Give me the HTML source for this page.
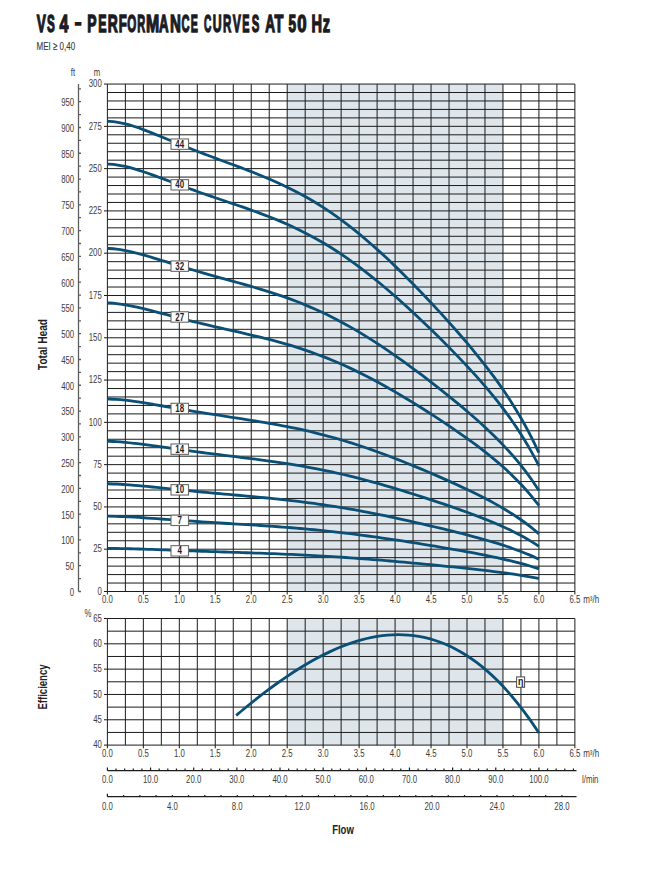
<!DOCTYPE html>
<html><head><meta charset="utf-8"><style>
html,body{margin:0;padding:0;background:#fff;width:663px;height:878px;overflow:hidden}
svg{display:block;font-family:"Liberation Sans", sans-serif}
</style></head><body>
<svg width="663" height="878" viewBox="0 0 663 878">
<g font-size="24.3" font-weight="bold" fill="#1b1b24" stroke="#1b1b24" stroke-width="1.4"><text transform="translate(36.86,31.90) scale(0.560,1)">V</text><text transform="translate(46.92,31.90) scale(0.480,1)">S</text><text transform="translate(59.62,31.90) scale(0.659,1)">4</text><text transform="translate(74.80,29.90) scale(0.489,1)">&#8211;</text><text transform="translate(87.13,31.90) scale(0.573,1)">P</text><text transform="translate(98.33,31.90) scale(0.512,1)">E</text><text transform="translate(107.73,31.90) scale(0.570,1)">R</text><text transform="translate(118.68,31.90) scale(0.542,1)">F</text><text transform="translate(127.18,31.90) scale(0.478,1)">O</text><text transform="translate(137.32,31.90) scale(0.453,1)">R</text><text transform="translate(146.10,31.90) scale(0.652,1)">M</text><text transform="translate(159.03,31.90) scale(0.545,1)">A</text><text transform="translate(169.95,31.90) scale(0.621,1)">N</text><text transform="translate(181.60,31.90) scale(0.458,1)">C</text><text transform="translate(190.85,31.90) scale(0.439,1)">E</text><text transform="translate(204.04,31.90) scale(0.420,1)">C</text><text transform="translate(212.72,31.90) scale(0.505,1)">U</text><text transform="translate(222.99,31.90) scale(0.473,1)">R</text><text transform="translate(232.67,31.90) scale(0.503,1)">V</text><text transform="translate(242.33,31.90) scale(0.446,1)">E</text><text transform="translate(251.73,31.90) scale(0.466,1)">S</text><text transform="translate(265.32,31.90) scale(0.557,1)">A</text><text transform="translate(274.50,31.90) scale(0.599,1)">T</text><text transform="translate(288.44,31.90) scale(0.561,1)">5</text><text transform="translate(297.19,31.90) scale(0.691,1)">0</text><text transform="translate(311.58,31.90) scale(0.600,1)">H</text><text transform="translate(322.78,31.90) scale(0.600,1)">z</text></g>
<text x="36.6" y="49.7" font-size="11.5" fill="#3a3a3a" stroke="#3a3a3a" stroke-width="0.15" textLength="38.5" lengthAdjust="spacingAndGlyphs">MEI &#8805; 0,40</text>
<rect x="287.20" y="84.05" width="215.76" height="507.45" fill="#dfe6eb"/>
<rect x="287.20" y="618.50" width="215.76" height="126.60" fill="#dfe6eb"/>
<path d="M107.40 84.05V591.50 M125.38 84.05V591.50 M143.36 84.05V591.50 M161.34 84.05V591.50 M179.32 84.05V591.50 M197.30 84.05V591.50 M215.28 84.05V591.50 M233.26 84.05V591.50 M251.24 84.05V591.50 M269.22 84.05V591.50 M287.20 84.05V591.50 M305.18 84.05V591.50 M323.16 84.05V591.50 M341.14 84.05V591.50 M359.12 84.05V591.50 M377.10 84.05V591.50 M395.08 84.05V591.50 M413.06 84.05V591.50 M431.04 84.05V591.50 M449.02 84.05V591.50 M467.00 84.05V591.50 M484.98 84.05V591.50 M502.96 84.05V591.50 M520.94 84.05V591.50 M538.92 84.05V591.50 M556.90 84.05V591.50 M574.88 84.05V591.50 M107.40 591.50H574.88 M107.40 583.04H574.88 M107.40 574.59H574.88 M107.40 566.13H574.88 M107.40 557.67H574.88 M107.40 549.21H574.88 M107.40 540.75H574.88 M107.40 532.30H574.88 M107.40 523.84H574.88 M107.40 515.38H574.88 M107.40 506.93H574.88 M107.40 498.47H574.88 M107.40 490.01H574.88 M107.40 481.55H574.88 M107.40 473.10H574.88 M107.40 464.64H574.88 M107.40 456.18H574.88 M107.40 447.72H574.88 M107.40 439.26H574.88 M107.40 430.81H574.88 M107.40 422.35H574.88 M107.40 413.89H574.88 M107.40 405.44H574.88 M107.40 396.98H574.88 M107.40 388.52H574.88 M107.40 380.06H574.88 M107.40 371.61H574.88 M107.40 363.15H574.88 M107.40 354.69H574.88 M107.40 346.23H574.88 M107.40 337.77H574.88 M107.40 329.32H574.88 M107.40 320.86H574.88 M107.40 312.40H574.88 M107.40 303.94H574.88 M107.40 295.49H574.88 M107.40 287.03H574.88 M107.40 278.57H574.88 M107.40 270.12H574.88 M107.40 261.66H574.88 M107.40 253.20H574.88 M107.40 244.74H574.88 M107.40 236.29H574.88 M107.40 227.83H574.88 M107.40 219.37H574.88 M107.40 210.91H574.88 M107.40 202.45H574.88 M107.40 194.00H574.88 M107.40 185.54H574.88 M107.40 177.08H574.88 M107.40 168.62H574.88 M107.40 160.17H574.88 M107.40 151.71H574.88 M107.40 143.25H574.88 M107.40 134.80H574.88 M107.40 126.34H574.88 M107.40 117.88H574.88 M107.40 109.42H574.88 M107.40 100.96H574.88 M107.40 92.51H574.88 M107.40 84.05H574.88 M104.0 591.50H107.40 M104.0 549.21H107.40 M104.0 506.93H107.40 M104.0 464.64H107.40 M104.0 422.35H107.40 M104.0 380.06H107.40 M104.0 337.77H107.40 M104.0 295.49H107.40 M104.0 253.20H107.40 M104.0 210.91H107.40 M104.0 168.62H107.40 M104.0 126.34H107.40 M104.0 84.05H107.40 M107.40 591.50V594.5 M143.36 591.50V594.5 M179.32 591.50V594.5 M215.28 591.50V594.5 M251.24 591.50V594.5 M287.20 591.50V594.5 M323.16 591.50V594.5 M359.12 591.50V594.5 M395.08 591.50V594.5 M431.04 591.50V594.5 M467.00 591.50V594.5 M502.96 591.50V594.5 M538.92 591.50V594.5 M574.88 591.50V594.5" stroke="#1c1c1c" stroke-width="1" fill="none"/>
<path d="M107.40 618.50V745.10 M125.38 618.50V745.10 M143.36 618.50V745.10 M161.34 618.50V745.10 M179.32 618.50V745.10 M197.30 618.50V745.10 M215.28 618.50V745.10 M233.26 618.50V745.10 M251.24 618.50V745.10 M269.22 618.50V745.10 M287.20 618.50V745.10 M305.18 618.50V745.10 M323.16 618.50V745.10 M341.14 618.50V745.10 M359.12 618.50V745.10 M377.10 618.50V745.10 M395.08 618.50V745.10 M413.06 618.50V745.10 M431.04 618.50V745.10 M449.02 618.50V745.10 M467.00 618.50V745.10 M484.98 618.50V745.10 M502.96 618.50V745.10 M520.94 618.50V745.10 M538.92 618.50V745.10 M556.90 618.50V745.10 M574.88 618.50V745.10 M107.40 745.10H574.88 M107.40 732.44H574.88 M107.40 719.78H574.88 M107.40 707.12H574.88 M107.40 694.46H574.88 M107.40 681.80H574.88 M107.40 669.14H574.88 M107.40 656.48H574.88 M107.40 643.82H574.88 M107.40 631.16H574.88 M107.40 618.50H574.88 M104.0 745.10H107.40 M104.0 719.78H107.40 M104.0 694.46H107.40 M104.0 669.14H107.40 M104.0 643.82H107.40 M104.0 618.50H107.40 M107.40 745.10V748.3 M143.36 745.10V748.3 M179.32 745.10V748.3 M215.28 745.10V748.3 M251.24 745.10V748.3 M287.20 745.10V748.3 M323.16 745.10V748.3 M359.12 745.10V748.3 M395.08 745.10V748.3 M431.04 745.10V748.3 M467.00 745.10V748.3 M502.96 745.10V748.3 M538.92 745.10V748.3 M574.88 745.10V748.3" stroke="#1c1c1c" stroke-width="1" fill="none"/>
<text transform="translate(101.80,594.70) scale(0.78,1)" text-anchor="end" font-size="10" fill="#3c3c3c" font-weight="normal">0</text>
<text transform="translate(101.80,552.41) scale(0.78,1)" text-anchor="end" font-size="10" fill="#3c3c3c" font-weight="normal">25</text>
<text transform="translate(101.80,510.12) scale(0.78,1)" text-anchor="end" font-size="10" fill="#3c3c3c" font-weight="normal">50</text>
<text transform="translate(101.80,467.84) scale(0.78,1)" text-anchor="end" font-size="10" fill="#3c3c3c" font-weight="normal">75</text>
<text transform="translate(101.80,425.55) scale(0.78,1)" text-anchor="end" font-size="10" fill="#3c3c3c" font-weight="normal">100</text>
<text transform="translate(101.80,383.26) scale(0.78,1)" text-anchor="end" font-size="10" fill="#3c3c3c" font-weight="normal">125</text>
<text transform="translate(101.80,340.97) scale(0.78,1)" text-anchor="end" font-size="10" fill="#3c3c3c" font-weight="normal">150</text>
<text transform="translate(101.80,298.69) scale(0.78,1)" text-anchor="end" font-size="10" fill="#3c3c3c" font-weight="normal">175</text>
<text transform="translate(101.80,256.40) scale(0.78,1)" text-anchor="end" font-size="10" fill="#3c3c3c" font-weight="normal">200</text>
<text transform="translate(101.80,214.11) scale(0.78,1)" text-anchor="end" font-size="10" fill="#3c3c3c" font-weight="normal">225</text>
<text transform="translate(101.80,171.82) scale(0.78,1)" text-anchor="end" font-size="10" fill="#3c3c3c" font-weight="normal">250</text>
<text transform="translate(101.80,129.54) scale(0.78,1)" text-anchor="end" font-size="10" fill="#3c3c3c" font-weight="normal">275</text>
<text transform="translate(101.80,87.25) scale(0.78,1)" text-anchor="end" font-size="10" fill="#3c3c3c" font-weight="normal">300</text>
<text transform="translate(97.00,75.50) scale(0.78,1)" text-anchor="middle" font-size="10" fill="#3c3c3c" font-weight="normal">m</text>
<path d="M78.5 84.05V591.50 M78.5 591.50H81.0 M78.5 578.61H81.0 M78.5 565.72H81.0 M78.5 552.83H81.0 M78.5 539.94H81.0 M78.5 527.05H81.0 M78.5 514.16H81.0 M78.5 501.28H81.0 M78.5 488.39H81.0 M78.5 475.50H81.0 M78.5 462.61H81.0 M78.5 449.72H81.0 M78.5 436.83H81.0 M78.5 423.94H81.0 M78.5 411.05H81.0 M78.5 398.16H81.0 M78.5 385.27H81.0 M78.5 372.38H81.0 M78.5 359.49H81.0 M78.5 346.60H81.0 M78.5 333.72H81.0 M78.5 320.83H81.0 M78.5 307.94H81.0 M78.5 295.05H81.0 M78.5 282.16H81.0 M78.5 269.27H81.0 M78.5 256.38H81.0 M78.5 243.49H81.0 M78.5 230.60H81.0 M78.5 217.71H81.0 M78.5 204.82H81.0 M78.5 191.93H81.0 M78.5 179.04H81.0 M78.5 166.16H81.0 M78.5 153.27H81.0 M78.5 140.38H81.0 M78.5 127.49H81.0 M78.5 114.60H81.0 M78.5 101.71H81.0 M78.5 88.82H81.0" stroke="#5e5e5e" stroke-width="1.3" fill="none"/>
<text transform="translate(74.20,595.90) scale(0.78,1)" text-anchor="end" font-size="10" fill="#3c3c3c" font-weight="normal">0</text>
<text transform="translate(74.20,570.12) scale(0.78,1)" text-anchor="end" font-size="10" fill="#3c3c3c" font-weight="normal">50</text>
<text transform="translate(74.20,544.34) scale(0.78,1)" text-anchor="end" font-size="10" fill="#3c3c3c" font-weight="normal">100</text>
<text transform="translate(74.20,518.56) scale(0.78,1)" text-anchor="end" font-size="10" fill="#3c3c3c" font-weight="normal">150</text>
<text transform="translate(74.20,492.79) scale(0.78,1)" text-anchor="end" font-size="10" fill="#3c3c3c" font-weight="normal">200</text>
<text transform="translate(74.20,467.01) scale(0.78,1)" text-anchor="end" font-size="10" fill="#3c3c3c" font-weight="normal">250</text>
<text transform="translate(74.20,441.23) scale(0.78,1)" text-anchor="end" font-size="10" fill="#3c3c3c" font-weight="normal">300</text>
<text transform="translate(74.20,415.45) scale(0.78,1)" text-anchor="end" font-size="10" fill="#3c3c3c" font-weight="normal">350</text>
<text transform="translate(74.20,389.67) scale(0.78,1)" text-anchor="end" font-size="10" fill="#3c3c3c" font-weight="normal">400</text>
<text transform="translate(74.20,363.89) scale(0.78,1)" text-anchor="end" font-size="10" fill="#3c3c3c" font-weight="normal">450</text>
<text transform="translate(74.20,338.12) scale(0.78,1)" text-anchor="end" font-size="10" fill="#3c3c3c" font-weight="normal">500</text>
<text transform="translate(74.20,312.34) scale(0.78,1)" text-anchor="end" font-size="10" fill="#3c3c3c" font-weight="normal">550</text>
<text transform="translate(74.20,286.56) scale(0.78,1)" text-anchor="end" font-size="10" fill="#3c3c3c" font-weight="normal">600</text>
<text transform="translate(74.20,260.78) scale(0.78,1)" text-anchor="end" font-size="10" fill="#3c3c3c" font-weight="normal">650</text>
<text transform="translate(74.20,235.00) scale(0.78,1)" text-anchor="end" font-size="10" fill="#3c3c3c" font-weight="normal">700</text>
<text transform="translate(74.20,209.22) scale(0.78,1)" text-anchor="end" font-size="10" fill="#3c3c3c" font-weight="normal">750</text>
<text transform="translate(74.20,183.44) scale(0.78,1)" text-anchor="end" font-size="10" fill="#3c3c3c" font-weight="normal">800</text>
<text transform="translate(74.20,157.67) scale(0.78,1)" text-anchor="end" font-size="10" fill="#3c3c3c" font-weight="normal">850</text>
<text transform="translate(74.20,131.89) scale(0.78,1)" text-anchor="end" font-size="10" fill="#3c3c3c" font-weight="normal">900</text>
<text transform="translate(74.20,106.11) scale(0.78,1)" text-anchor="end" font-size="10" fill="#3c3c3c" font-weight="normal">950</text>
<text transform="translate(73.00,75.50) scale(0.78,1)" text-anchor="middle" font-size="10" fill="#3c3c3c" font-weight="normal">ft</text>
<text transform="translate(107.40,603.20) scale(0.78,1)" text-anchor="middle" font-size="10" fill="#3c3c3c" font-weight="normal">0.0</text>
<text transform="translate(143.36,603.20) scale(0.78,1)" text-anchor="middle" font-size="10" fill="#3c3c3c" font-weight="normal">0.5</text>
<text transform="translate(179.32,603.20) scale(0.78,1)" text-anchor="middle" font-size="10" fill="#3c3c3c" font-weight="normal">1.0</text>
<text transform="translate(215.28,603.20) scale(0.78,1)" text-anchor="middle" font-size="10" fill="#3c3c3c" font-weight="normal">1.5</text>
<text transform="translate(251.24,603.20) scale(0.78,1)" text-anchor="middle" font-size="10" fill="#3c3c3c" font-weight="normal">2.0</text>
<text transform="translate(287.20,603.20) scale(0.78,1)" text-anchor="middle" font-size="10" fill="#3c3c3c" font-weight="normal">2.5</text>
<text transform="translate(323.16,603.20) scale(0.78,1)" text-anchor="middle" font-size="10" fill="#3c3c3c" font-weight="normal">3.0</text>
<text transform="translate(359.12,603.20) scale(0.78,1)" text-anchor="middle" font-size="10" fill="#3c3c3c" font-weight="normal">3.5</text>
<text transform="translate(395.08,603.20) scale(0.78,1)" text-anchor="middle" font-size="10" fill="#3c3c3c" font-weight="normal">4.0</text>
<text transform="translate(431.04,603.20) scale(0.78,1)" text-anchor="middle" font-size="10" fill="#3c3c3c" font-weight="normal">4.5</text>
<text transform="translate(467.00,603.20) scale(0.78,1)" text-anchor="middle" font-size="10" fill="#3c3c3c" font-weight="normal">5.0</text>
<text transform="translate(502.96,603.20) scale(0.78,1)" text-anchor="middle" font-size="10" fill="#3c3c3c" font-weight="normal">5.5</text>
<text transform="translate(538.92,603.20) scale(0.78,1)" text-anchor="middle" font-size="10" fill="#3c3c3c" font-weight="normal">6.0</text>
<text transform="translate(574.88,603.20) scale(0.78,1)" text-anchor="middle" font-size="10" fill="#3c3c3c" font-weight="normal">6.5</text>
<text transform="translate(583.20,603.20) scale(0.8,1)" text-anchor="start" font-size="10" fill="#3c3c3c" font-weight="normal">m&#179;/h</text>
<text transform="translate(101.80,748.30) scale(0.78,1)" text-anchor="end" font-size="10" fill="#3c3c3c" font-weight="normal">40</text>
<text transform="translate(101.80,722.98) scale(0.78,1)" text-anchor="end" font-size="10" fill="#3c3c3c" font-weight="normal">45</text>
<text transform="translate(101.80,697.66) scale(0.78,1)" text-anchor="end" font-size="10" fill="#3c3c3c" font-weight="normal">50</text>
<text transform="translate(101.80,672.34) scale(0.78,1)" text-anchor="end" font-size="10" fill="#3c3c3c" font-weight="normal">55</text>
<text transform="translate(101.80,647.02) scale(0.78,1)" text-anchor="end" font-size="10" fill="#3c3c3c" font-weight="normal">60</text>
<text transform="translate(101.80,621.70) scale(0.78,1)" text-anchor="end" font-size="10" fill="#3c3c3c" font-weight="normal">65</text>
<text transform="translate(88.00,616.50) scale(0.78,1)" text-anchor="middle" font-size="10" fill="#3c3c3c" font-weight="normal">%</text>
<text transform="translate(107.40,757.00) scale(0.78,1)" text-anchor="middle" font-size="10" fill="#3c3c3c" font-weight="normal">0.0</text>
<text transform="translate(143.36,757.00) scale(0.78,1)" text-anchor="middle" font-size="10" fill="#3c3c3c" font-weight="normal">0.5</text>
<text transform="translate(179.32,757.00) scale(0.78,1)" text-anchor="middle" font-size="10" fill="#3c3c3c" font-weight="normal">1.0</text>
<text transform="translate(215.28,757.00) scale(0.78,1)" text-anchor="middle" font-size="10" fill="#3c3c3c" font-weight="normal">1.5</text>
<text transform="translate(251.24,757.00) scale(0.78,1)" text-anchor="middle" font-size="10" fill="#3c3c3c" font-weight="normal">2.0</text>
<text transform="translate(287.20,757.00) scale(0.78,1)" text-anchor="middle" font-size="10" fill="#3c3c3c" font-weight="normal">2.5</text>
<text transform="translate(323.16,757.00) scale(0.78,1)" text-anchor="middle" font-size="10" fill="#3c3c3c" font-weight="normal">3.0</text>
<text transform="translate(359.12,757.00) scale(0.78,1)" text-anchor="middle" font-size="10" fill="#3c3c3c" font-weight="normal">3.5</text>
<text transform="translate(395.08,757.00) scale(0.78,1)" text-anchor="middle" font-size="10" fill="#3c3c3c" font-weight="normal">4.0</text>
<text transform="translate(431.04,757.00) scale(0.78,1)" text-anchor="middle" font-size="10" fill="#3c3c3c" font-weight="normal">4.5</text>
<text transform="translate(467.00,757.00) scale(0.78,1)" text-anchor="middle" font-size="10" fill="#3c3c3c" font-weight="normal">5.0</text>
<text transform="translate(502.96,757.00) scale(0.78,1)" text-anchor="middle" font-size="10" fill="#3c3c3c" font-weight="normal">5.5</text>
<text transform="translate(538.92,757.00) scale(0.78,1)" text-anchor="middle" font-size="10" fill="#3c3c3c" font-weight="normal">6.0</text>
<text transform="translate(574.88,757.00) scale(0.78,1)" text-anchor="middle" font-size="10" fill="#3c3c3c" font-weight="normal">6.5</text>
<text transform="translate(583.20,757.00) scale(0.8,1)" text-anchor="start" font-size="10" fill="#3c3c3c" font-weight="normal">m&#179;/h</text>
<path d="M107.40 770.7H576.5 M107.40 770.6V767.6 M116.03 770.6V768.6 M124.66 770.6V768.6 M133.29 770.6V768.6 M141.92 770.6V768.6 M150.55 770.6V767.6 M159.18 770.6V768.6 M167.81 770.6V768.6 M176.44 770.6V768.6 M185.07 770.6V768.6 M193.70 770.6V767.6 M202.33 770.6V768.6 M210.96 770.6V768.6 M219.60 770.6V768.6 M228.23 770.6V768.6 M236.86 770.6V767.6 M245.49 770.6V768.6 M254.12 770.6V768.6 M262.75 770.6V768.6 M271.38 770.6V768.6 M280.01 770.6V767.6 M288.64 770.6V768.6 M297.27 770.6V768.6 M305.90 770.6V768.6 M314.53 770.6V768.6 M323.16 770.6V767.6 M331.79 770.6V768.6 M340.42 770.6V768.6 M349.05 770.6V768.6 M357.68 770.6V768.6 M366.31 770.6V767.6 M374.94 770.6V768.6 M383.57 770.6V768.6 M392.20 770.6V768.6 M400.83 770.6V768.6 M409.46 770.6V767.6 M418.09 770.6V768.6 M426.72 770.6V768.6 M435.36 770.6V768.6 M443.99 770.6V768.6 M452.62 770.6V767.6 M461.25 770.6V768.6 M469.88 770.6V768.6 M478.51 770.6V768.6 M487.14 770.6V768.6 M495.77 770.6V767.6 M504.40 770.6V768.6 M513.03 770.6V768.6 M521.66 770.6V768.6 M530.29 770.6V768.6 M538.92 770.6V767.6 M547.55 770.6V768.6 M556.18 770.6V768.6 M564.81 770.6V768.6 M573.44 770.6V768.6" stroke="#1c1c1c" stroke-width="1.2" fill="none"/>
<text transform="translate(107.40,782.60) scale(0.78,1)" text-anchor="middle" font-size="10" fill="#3c3c3c" font-weight="normal">0.0</text>
<text transform="translate(150.55,782.60) scale(0.78,1)" text-anchor="middle" font-size="10" fill="#3c3c3c" font-weight="normal">10.0</text>
<text transform="translate(193.70,782.60) scale(0.78,1)" text-anchor="middle" font-size="10" fill="#3c3c3c" font-weight="normal">20.0</text>
<text transform="translate(236.86,782.60) scale(0.78,1)" text-anchor="middle" font-size="10" fill="#3c3c3c" font-weight="normal">30.0</text>
<text transform="translate(280.01,782.60) scale(0.78,1)" text-anchor="middle" font-size="10" fill="#3c3c3c" font-weight="normal">40.0</text>
<text transform="translate(323.16,782.60) scale(0.78,1)" text-anchor="middle" font-size="10" fill="#3c3c3c" font-weight="normal">50.0</text>
<text transform="translate(366.31,782.60) scale(0.78,1)" text-anchor="middle" font-size="10" fill="#3c3c3c" font-weight="normal">60.0</text>
<text transform="translate(409.46,782.60) scale(0.78,1)" text-anchor="middle" font-size="10" fill="#3c3c3c" font-weight="normal">70.0</text>
<text transform="translate(452.62,782.60) scale(0.78,1)" text-anchor="middle" font-size="10" fill="#3c3c3c" font-weight="normal">80.0</text>
<text transform="translate(495.77,782.60) scale(0.78,1)" text-anchor="middle" font-size="10" fill="#3c3c3c" font-weight="normal">90.0</text>
<text transform="translate(538.92,782.60) scale(0.78,1)" text-anchor="middle" font-size="10" fill="#3c3c3c" font-weight="normal">100.0</text>
<text transform="translate(582.00,782.60) scale(0.78,1)" text-anchor="start" font-size="10" fill="#3c3c3c" font-weight="normal">l/min</text>
<path d="M107.40 796.7H576.5 M107.40 796.7V793.7 M123.63 796.7V794.9 M139.86 796.7V794.9 M156.10 796.7V794.9 M172.33 796.7V794.9 M188.56 796.7V794.9 M204.79 796.7V794.9 M221.02 796.7V794.9 M237.26 796.7V794.9 M253.49 796.7V794.9 M269.72 796.7V794.9 M285.95 796.7V794.9 M302.18 796.7V794.9 M318.42 796.7V794.9 M334.65 796.7V794.9 M350.88 796.7V794.9 M367.11 796.7V794.9 M383.34 796.7V794.9 M399.58 796.7V794.9 M415.81 796.7V794.9 M432.04 796.7V794.9 M448.27 796.7V794.9 M464.50 796.7V794.9 M480.73 796.7V794.9 M496.97 796.7V794.9 M513.20 796.7V794.9 M529.43 796.7V794.9 M545.66 796.7V794.9 M561.89 796.7V794.9" stroke="#1c1c1c" stroke-width="1.2" fill="none"/>
<text transform="translate(107.40,809.80) scale(0.78,1)" text-anchor="middle" font-size="10" fill="#3c3c3c" font-weight="normal">0.0</text>
<text transform="translate(172.33,809.80) scale(0.78,1)" text-anchor="middle" font-size="10" fill="#3c3c3c" font-weight="normal">4.0</text>
<text transform="translate(237.26,809.80) scale(0.78,1)" text-anchor="middle" font-size="10" fill="#3c3c3c" font-weight="normal">8.0</text>
<text transform="translate(302.18,809.80) scale(0.78,1)" text-anchor="middle" font-size="10" fill="#3c3c3c" font-weight="normal">12.0</text>
<text transform="translate(367.11,809.80) scale(0.78,1)" text-anchor="middle" font-size="10" fill="#3c3c3c" font-weight="normal">16.0</text>
<text transform="translate(432.04,809.80) scale(0.78,1)" text-anchor="middle" font-size="10" fill="#3c3c3c" font-weight="normal">20.0</text>
<text transform="translate(496.97,809.80) scale(0.78,1)" text-anchor="middle" font-size="10" fill="#3c3c3c" font-weight="normal">24.0</text>
<text transform="translate(561.89,809.80) scale(0.78,1)" text-anchor="middle" font-size="10" fill="#3c3c3c" font-weight="normal">28.0</text>
<text transform="translate(46.5,344.5) rotate(-90)" text-anchor="middle" font-size="12" font-weight="bold" fill="#222" textLength="51" lengthAdjust="spacingAndGlyphs">Total Head</text>
<text transform="translate(46.5,687) rotate(-90)" text-anchor="middle" font-size="12" font-weight="bold" fill="#222" textLength="45" lengthAdjust="spacingAndGlyphs">Efficiency</text>
<text x="343" y="833.8" text-anchor="middle" font-size="12.5" font-weight="bold" fill="#222" textLength="21.7" lengthAdjust="spacingAndGlyphs">Flow</text>
<path d="M107.40 121.24C108.90 121.38 113.39 121.62 116.39 122.06C119.39 122.51 122.38 123.18 125.38 123.93C128.38 124.67 131.37 125.58 134.37 126.54C137.37 127.50 140.36 128.57 143.36 129.66C146.36 130.76 149.35 131.93 152.35 133.11C155.35 134.29 158.34 135.52 161.34 136.74C164.34 137.95 167.33 139.20 170.33 140.43C173.33 141.66 176.32 142.89 179.32 144.11C182.32 145.33 185.31 146.54 188.31 147.74C191.31 148.93 194.30 150.11 197.30 151.28C200.30 152.45 203.29 153.60 206.29 154.74C209.29 155.89 212.28 157.01 215.28 158.13C218.28 159.26 221.27 160.36 224.27 161.48C227.27 162.59 230.26 163.69 233.26 164.81C236.26 165.93 239.25 167.04 242.25 168.18C245.25 169.31 248.24 170.45 251.24 171.62C254.24 172.79 257.23 173.97 260.23 175.19C263.23 176.41 266.22 177.65 269.22 178.94C272.22 180.23 275.21 181.54 278.21 182.91C281.21 184.28 284.20 185.69 287.20 187.15C290.20 188.61 293.19 190.12 296.19 191.69C299.19 193.26 302.18 194.89 305.18 196.57C308.18 198.26 311.17 200.01 314.17 201.82C317.17 203.63 320.16 205.50 323.16 207.45C326.16 209.39 329.15 211.39 332.15 213.47C335.15 215.54 338.14 217.68 341.14 219.88C344.14 222.09 347.13 224.36 350.13 226.69C353.13 229.03 356.12 231.43 359.12 233.89C362.12 236.35 365.11 238.87 368.11 241.45C371.11 244.03 374.10 246.67 377.10 249.36C380.10 252.05 383.09 254.80 386.09 257.59C389.09 260.39 392.08 263.24 395.08 266.12C398.08 269.01 401.07 271.95 404.07 274.92C407.07 277.90 410.06 280.92 413.06 283.97C416.06 287.02 419.05 290.11 422.05 293.24C425.05 296.37 428.04 299.53 431.04 302.72C434.04 305.92 437.03 309.15 440.03 312.42C443.03 315.69 446.02 318.99 449.02 322.33C452.02 325.68 455.01 329.06 458.01 332.49C461.01 335.93 464.00 339.40 467.00 342.94C470.00 346.49 472.99 350.08 475.99 353.76C478.99 357.44 481.98 361.18 484.98 365.04C487.98 368.90 490.97 372.82 493.97 376.91C496.97 380.99 499.96 385.17 502.96 389.54C505.96 393.92 508.95 398.41 511.95 403.15C514.95 407.89 517.94 412.79 520.94 417.99C523.94 423.20 526.93 428.60 529.93 434.38C532.93 440.16 537.42 449.63 538.92 452.68" stroke="#0a4f75" stroke-width="2.8" fill="none" stroke-linecap="butt"/>
<path d="M107.40 164.01C108.90 164.13 113.39 164.36 116.39 164.77C119.39 165.18 122.38 165.79 125.38 166.47C128.38 167.15 131.37 167.98 134.37 168.86C137.37 169.73 140.36 170.71 143.36 171.71C146.36 172.71 149.35 173.78 152.35 174.86C155.35 175.93 158.34 177.05 161.34 178.17C164.34 179.28 167.33 180.42 170.33 181.54C173.33 182.66 176.32 183.79 179.32 184.90C182.32 186.02 185.31 187.12 188.31 188.22C191.31 189.31 194.30 190.39 197.30 191.46C200.30 192.53 203.29 193.58 206.29 194.63C209.29 195.67 212.28 196.70 215.28 197.73C218.28 198.75 221.27 199.77 224.27 200.79C227.27 201.80 230.26 202.82 233.26 203.84C236.26 204.86 239.25 205.88 242.25 206.92C245.25 207.96 248.24 209.00 251.24 210.07C254.24 211.14 257.23 212.22 260.23 213.34C263.23 214.45 266.22 215.59 269.22 216.77C272.22 217.94 275.21 219.15 278.21 220.40C281.21 221.65 284.20 222.93 287.20 224.27C290.20 225.61 293.19 226.99 296.19 228.42C299.19 229.86 302.18 231.34 305.18 232.88C308.18 234.42 311.17 236.01 314.17 237.67C317.17 239.32 320.16 241.03 323.16 242.80C326.16 244.57 329.15 246.40 332.15 248.29C335.15 250.18 338.14 252.13 341.14 254.14C344.14 256.15 347.13 258.22 350.13 260.35C353.13 262.48 356.12 264.67 359.12 266.91C362.12 269.15 365.11 271.45 368.11 273.80C371.11 276.14 374.10 278.55 377.10 281.00C380.10 283.45 383.09 285.95 386.09 288.49C389.09 291.04 392.08 293.63 395.08 296.26C398.08 298.89 401.07 301.56 404.07 304.27C407.07 306.97 410.06 309.72 413.06 312.50C416.06 315.27 419.05 318.09 422.05 320.93C425.05 323.77 428.04 326.65 431.04 329.55C434.04 332.46 437.03 335.40 440.03 338.37C443.03 341.34 446.02 344.34 449.02 347.38C452.02 350.42 455.01 353.49 458.01 356.61C461.01 359.74 464.00 362.89 467.00 366.11C470.00 369.33 472.99 372.59 475.99 375.94C478.99 379.28 481.98 382.67 484.98 386.18C487.98 389.68 490.97 393.25 493.97 396.96C496.97 400.67 499.96 404.46 502.96 408.43C505.96 412.40 508.95 416.48 511.95 420.78C514.95 425.08 517.94 429.53 520.94 434.25C523.94 438.98 526.93 443.88 529.93 449.12C532.93 454.37 537.42 462.97 538.92 465.74" stroke="#0a4f75" stroke-width="2.8" fill="none" stroke-linecap="butt"/>
<path d="M107.40 248.38C108.90 248.50 113.39 248.74 116.39 249.10C119.39 249.46 122.38 249.99 125.38 250.57C128.38 251.15 131.37 251.85 134.37 252.58C137.37 253.31 140.36 254.13 143.36 254.96C146.36 255.79 149.35 256.68 152.35 257.57C155.35 258.46 158.34 259.38 161.34 260.30C164.34 261.22 167.33 262.16 170.33 263.08C173.33 264.01 176.32 264.94 179.32 265.85C182.32 266.77 185.31 267.68 188.31 268.58C191.31 269.48 194.30 270.36 197.30 271.24C200.30 272.12 203.29 272.98 206.29 273.84C209.29 274.69 212.28 275.54 215.28 276.38C218.28 277.22 221.27 278.05 224.27 278.88C227.27 279.71 230.26 280.54 233.26 281.37C236.26 282.21 239.25 283.04 242.25 283.89C245.25 284.73 248.24 285.58 251.24 286.45C254.24 287.32 257.23 288.20 260.23 289.10C263.23 290.01 266.22 290.93 269.22 291.88C272.22 292.83 275.21 293.81 278.21 294.82C281.21 295.83 284.20 296.86 287.20 297.94C290.20 299.02 293.19 300.13 296.19 301.29C299.19 302.44 302.18 303.63 305.18 304.87C308.18 306.11 311.17 307.39 314.17 308.72C317.17 310.04 320.16 311.41 323.16 312.83C326.16 314.25 329.15 315.72 332.15 317.23C335.15 318.75 338.14 320.31 341.14 321.92C344.14 323.53 347.13 325.18 350.13 326.89C353.13 328.59 356.12 330.34 359.12 332.13C362.12 333.92 365.11 335.76 368.11 337.63C371.11 339.51 374.10 341.43 377.10 343.39C380.10 345.34 383.09 347.34 386.09 349.37C389.09 351.40 392.08 353.47 395.08 355.56C398.08 357.66 401.07 359.79 404.07 361.95C407.07 364.11 410.06 366.30 413.06 368.51C416.06 370.72 419.05 372.96 422.05 375.23C425.05 377.49 428.04 379.78 431.04 382.10C434.04 384.41 437.03 386.75 440.03 389.12C443.03 391.48 446.02 393.87 449.02 396.29C452.02 398.71 455.01 401.15 458.01 403.64C461.01 406.12 464.00 408.63 467.00 411.19C470.00 413.76 472.99 416.35 475.99 419.01C478.99 421.67 481.98 424.37 484.98 427.16C487.98 429.94 490.97 432.78 493.97 435.73C496.97 438.68 499.96 441.69 502.96 444.85C505.96 448.01 508.95 451.25 511.95 454.68C514.95 458.10 517.94 461.64 520.94 465.40C523.94 469.16 526.93 473.06 529.93 477.23C532.93 481.41 537.42 488.26 538.92 490.46" stroke="#0a4f75" stroke-width="2.8" fill="none" stroke-linecap="butt"/>
<path d="M107.40 302.81C108.90 302.93 113.39 303.18 116.39 303.52C119.39 303.86 122.38 304.34 125.38 304.85C128.38 305.37 131.37 305.99 134.37 306.63C137.37 307.26 140.36 307.97 143.36 308.69C146.36 309.41 149.35 310.17 152.35 310.94C155.35 311.70 158.34 312.49 161.34 313.28C164.34 314.06 167.33 314.86 170.33 315.64C173.33 316.43 176.32 317.21 179.32 317.98C182.32 318.76 185.31 319.52 188.31 320.28C191.31 321.03 194.30 321.77 197.30 322.51C200.30 323.24 203.29 323.96 206.29 324.67C209.29 325.38 212.28 326.08 215.28 326.78C218.28 327.47 221.27 328.16 224.27 328.84C227.27 329.53 230.26 330.20 233.26 330.89C236.26 331.57 239.25 332.25 242.25 332.95C245.25 333.64 248.24 334.33 251.24 335.04C254.24 335.75 257.23 336.47 260.23 337.20C263.23 337.94 266.22 338.69 269.22 339.47C272.22 340.24 275.21 341.03 278.21 341.86C281.21 342.68 284.20 343.53 287.20 344.40C290.20 345.28 293.19 346.19 296.19 347.13C299.19 348.08 302.18 349.05 305.18 350.06C308.18 351.07 311.17 352.12 314.17 353.21C317.17 354.30 320.16 355.42 323.16 356.58C326.16 357.75 329.15 358.95 332.15 360.20C335.15 361.44 338.14 362.73 341.14 364.05C344.14 365.38 347.13 366.74 350.13 368.14C353.13 369.55 356.12 370.99 359.12 372.47C362.12 373.95 365.11 375.47 368.11 377.02C371.11 378.57 374.10 380.16 377.10 381.78C380.10 383.40 383.09 385.06 386.09 386.74C389.09 388.43 392.08 390.14 395.08 391.89C398.08 393.63 401.07 395.40 404.07 397.20C407.07 398.99 410.06 400.81 413.06 402.66C416.06 404.50 419.05 406.37 422.05 408.26C425.05 410.15 428.04 412.07 431.04 414.00C434.04 415.94 437.03 417.89 440.03 419.87C443.03 421.85 446.02 423.85 449.02 425.88C452.02 427.91 455.01 429.96 458.01 432.05C461.01 434.14 464.00 436.25 467.00 438.40C470.00 440.56 472.99 442.74 475.99 444.99C478.99 447.23 481.98 449.51 484.98 451.86C487.98 454.21 490.97 456.61 493.97 459.11C496.97 461.60 499.96 464.15 502.96 466.83C505.96 469.50 508.95 472.25 511.95 475.16C514.95 478.06 517.94 481.06 520.94 484.26C523.94 487.45 526.93 490.76 529.93 494.31C532.93 497.86 537.42 503.68 538.92 505.56" stroke="#0a4f75" stroke-width="2.8" fill="none" stroke-linecap="butt"/>
<path d="M107.40 398.94C108.90 399.01 113.39 399.16 116.39 399.37C119.39 399.59 122.38 399.89 125.38 400.23C128.38 400.56 131.37 400.96 134.37 401.38C137.37 401.79 140.36 402.26 143.36 402.73C146.36 403.20 149.35 403.71 152.35 404.21C155.35 404.71 158.34 405.23 161.34 405.75C164.34 406.27 167.33 406.80 170.33 407.32C173.33 407.84 176.32 408.36 179.32 408.87C182.32 409.39 185.31 409.90 188.31 410.40C191.31 410.90 194.30 411.40 197.30 411.88C200.30 412.37 203.29 412.85 206.29 413.33C209.29 413.81 212.28 414.28 215.28 414.74C218.28 415.21 221.27 415.67 224.27 416.13C227.27 416.59 230.26 417.05 233.26 417.51C236.26 417.97 239.25 418.42 242.25 418.89C245.25 419.36 248.24 419.82 251.24 420.30C254.24 420.78 257.23 421.26 260.23 421.76C263.23 422.26 266.22 422.77 269.22 423.29C272.22 423.81 275.21 424.35 278.21 424.90C281.21 425.46 284.20 426.03 287.20 426.62C290.20 427.22 293.19 427.83 296.19 428.46C299.19 429.10 302.18 429.75 305.18 430.44C308.18 431.12 311.17 431.82 314.17 432.56C317.17 433.29 320.16 434.04 323.16 434.83C326.16 435.61 329.15 436.42 332.15 437.26C335.15 438.09 338.14 438.96 341.14 439.84C344.14 440.73 347.13 441.65 350.13 442.59C353.13 443.53 356.12 444.50 359.12 445.49C362.12 446.48 365.11 447.50 368.11 448.54C371.11 449.58 374.10 450.64 377.10 451.73C380.10 452.81 383.09 453.92 386.09 455.05C389.09 456.17 392.08 457.32 395.08 458.48C398.08 459.65 401.07 460.83 404.07 462.03C407.07 463.23 410.06 464.44 413.06 465.67C416.06 466.90 419.05 468.15 422.05 469.41C425.05 470.67 428.04 471.94 431.04 473.23C434.04 474.52 437.03 475.82 440.03 477.14C443.03 478.45 446.02 479.78 449.02 481.13C452.02 482.48 455.01 483.84 458.01 485.23C461.01 486.61 464.00 488.01 467.00 489.44C470.00 490.87 472.99 492.32 475.99 493.80C478.99 495.29 481.98 496.79 484.98 498.35C487.98 499.91 490.97 501.49 493.97 503.14C496.97 504.79 499.96 506.48 502.96 508.25C505.96 510.02 508.95 511.83 511.95 513.75C514.95 515.67 517.94 517.65 520.94 519.76C523.94 521.87 526.93 524.06 529.93 526.40C532.93 528.75 537.42 532.59 538.92 533.83" stroke="#0a4f75" stroke-width="2.8" fill="none" stroke-linecap="butt"/>
<path d="M107.40 441.18C108.90 441.25 113.39 441.40 116.39 441.59C119.39 441.78 122.38 442.04 125.38 442.33C128.38 442.61 131.37 442.95 134.37 443.29C137.37 443.64 140.36 444.02 143.36 444.41C146.36 444.80 149.35 445.22 152.35 445.63C155.35 446.04 158.34 446.47 161.34 446.89C164.34 447.31 167.33 447.74 170.33 448.17C173.33 448.59 176.32 449.01 179.32 449.43C182.32 449.85 185.31 450.26 188.31 450.67C191.31 451.08 194.30 451.48 197.30 451.87C200.30 452.27 203.29 452.66 206.29 453.05C209.29 453.43 212.28 453.81 215.28 454.19C218.28 454.56 221.27 454.93 224.27 455.31C227.27 455.68 230.26 456.04 233.26 456.41C236.26 456.78 239.25 457.15 242.25 457.53C245.25 457.90 248.24 458.27 251.24 458.66C254.24 459.04 257.23 459.42 260.23 459.82C263.23 460.21 266.22 460.62 269.22 461.03C272.22 461.45 275.21 461.87 278.21 462.31C281.21 462.75 284.20 463.20 287.20 463.67C290.20 464.13 293.19 464.61 296.19 465.11C299.19 465.61 302.18 466.13 305.18 466.66C308.18 467.20 311.17 467.75 314.17 468.32C317.17 468.89 320.16 469.48 323.16 470.09C326.16 470.70 329.15 471.34 332.15 471.99C335.15 472.64 338.14 473.31 341.14 474.00C344.14 474.69 347.13 475.40 350.13 476.14C353.13 476.87 356.12 477.62 359.12 478.39C362.12 479.16 365.11 479.94 368.11 480.75C371.11 481.56 374.10 482.38 377.10 483.22C380.10 484.06 383.09 484.91 386.09 485.79C389.09 486.66 392.08 487.54 395.08 488.44C398.08 489.34 401.07 490.25 404.07 491.18C407.07 492.10 410.06 493.04 413.06 493.99C416.06 494.94 419.05 495.90 422.05 496.87C425.05 497.84 428.04 498.82 431.04 499.81C434.04 500.80 437.03 501.81 440.03 502.82C443.03 503.83 446.02 504.85 449.02 505.89C452.02 506.93 455.01 507.97 458.01 509.04C461.01 510.10 464.00 511.18 467.00 512.27C470.00 513.37 472.99 514.48 475.99 515.62C478.99 516.76 481.98 517.92 484.98 519.11C487.98 520.31 490.97 521.53 493.97 522.79C496.97 524.06 499.96 525.35 502.96 526.71C505.96 528.07 508.95 529.46 511.95 530.93C514.95 532.41 517.94 533.93 520.94 535.55C523.94 537.17 526.93 538.85 529.93 540.65C532.93 542.45 537.42 545.41 538.92 546.36" stroke="#0a4f75" stroke-width="2.8" fill="none" stroke-linecap="butt"/>
<path d="M107.40 483.70C108.90 483.75 113.39 483.88 116.39 484.02C119.39 484.17 122.38 484.36 125.38 484.57C128.38 484.78 131.37 485.03 134.37 485.28C137.37 485.54 140.36 485.82 143.36 486.11C146.36 486.39 149.35 486.69 152.35 487.00C155.35 487.30 158.34 487.61 161.34 487.92C164.34 488.23 167.33 488.54 170.33 488.85C173.33 489.16 176.32 489.47 179.32 489.77C182.32 490.08 185.31 490.38 188.31 490.68C191.31 490.98 194.30 491.27 197.30 491.56C200.30 491.85 203.29 492.13 206.29 492.41C209.29 492.69 212.28 492.97 215.28 493.24C218.28 493.52 221.27 493.79 224.27 494.06C227.27 494.33 230.26 494.60 233.26 494.87C236.26 495.13 239.25 495.40 242.25 495.67C245.25 495.95 248.24 496.22 251.24 496.49C254.24 496.77 257.23 497.05 260.23 497.34C263.23 497.63 266.22 497.92 269.22 498.22C272.22 498.52 275.21 498.82 278.21 499.14C281.21 499.46 284.20 499.78 287.20 500.12C290.20 500.46 293.19 500.81 296.19 501.17C299.19 501.53 302.18 501.90 305.18 502.28C308.18 502.67 311.17 503.06 314.17 503.47C317.17 503.89 320.16 504.31 323.16 504.75C326.16 505.19 329.15 505.64 332.15 506.11C335.15 506.58 338.14 507.06 341.14 507.55C344.14 508.05 347.13 508.56 350.13 509.08C353.13 509.61 356.12 510.15 359.12 510.70C362.12 511.25 365.11 511.81 368.11 512.39C371.11 512.97 374.10 513.56 377.10 514.16C380.10 514.76 383.09 515.37 386.09 515.99C389.09 516.62 392.08 517.25 395.08 517.89C398.08 518.53 401.07 519.19 404.07 519.85C407.07 520.51 410.06 521.18 413.06 521.86C416.06 522.54 419.05 523.22 422.05 523.91C425.05 524.61 428.04 525.31 431.04 526.02C434.04 526.72 437.03 527.44 440.03 528.16C443.03 528.88 446.02 529.61 449.02 530.35C452.02 531.09 455.01 531.84 458.01 532.60C461.01 533.36 464.00 534.12 467.00 534.90C470.00 535.69 472.99 536.48 475.99 537.29C478.99 538.10 481.98 538.93 484.98 539.78C487.98 540.63 490.97 541.50 493.97 542.40C496.97 543.30 499.96 544.23 502.96 545.19C505.96 546.16 508.95 547.15 511.95 548.20C514.95 549.25 517.94 550.34 520.94 551.49C523.94 552.65 526.93 553.84 529.93 555.13C532.93 556.41 537.42 558.52 538.92 559.20" stroke="#0a4f75" stroke-width="2.8" fill="none" stroke-linecap="butt"/>
<path d="M107.40 516.15C108.90 516.18 113.39 516.26 116.39 516.36C119.39 516.45 122.38 516.59 125.38 516.73C128.38 516.87 131.37 517.04 134.37 517.21C137.37 517.39 140.36 517.58 143.36 517.77C146.36 517.97 149.35 518.17 152.35 518.38C155.35 518.59 158.34 518.80 161.34 519.01C164.34 519.23 167.33 519.44 170.33 519.65C173.33 519.87 176.32 520.08 179.32 520.29C182.32 520.50 185.31 520.70 188.31 520.91C191.31 521.11 194.30 521.31 197.30 521.51C200.30 521.71 203.29 521.91 206.29 522.10C209.29 522.29 212.28 522.48 215.28 522.67C218.28 522.86 221.27 523.05 224.27 523.23C227.27 523.42 230.26 523.60 233.26 523.79C236.26 523.98 239.25 524.16 242.25 524.35C245.25 524.54 248.24 524.72 251.24 524.91C254.24 525.11 257.23 525.30 260.23 525.50C263.23 525.70 266.22 525.90 269.22 526.11C272.22 526.32 275.21 526.53 278.21 526.75C281.21 526.97 284.20 527.19 287.20 527.43C290.20 527.66 293.19 527.90 296.19 528.15C299.19 528.40 302.18 528.66 305.18 528.93C308.18 529.20 311.17 529.48 314.17 529.76C317.17 530.05 320.16 530.34 323.16 530.65C326.16 530.96 329.15 531.27 332.15 531.60C335.15 531.93 338.14 532.26 341.14 532.61C344.14 532.96 347.13 533.31 350.13 533.68C353.13 534.05 356.12 534.42 359.12 534.81C362.12 535.19 365.11 535.59 368.11 535.99C371.11 536.40 374.10 536.81 377.10 537.23C380.10 537.65 383.09 538.08 386.09 538.52C389.09 538.95 392.08 539.40 395.08 539.85C398.08 540.30 401.07 540.75 404.07 541.22C407.07 541.68 410.06 542.15 413.06 542.63C416.06 543.10 419.05 543.58 422.05 544.07C425.05 544.56 428.04 545.05 431.04 545.54C434.04 546.04 437.03 546.54 440.03 547.05C443.03 547.56 446.02 548.07 449.02 548.59C452.02 549.11 455.01 549.63 458.01 550.16C461.01 550.70 464.00 551.24 467.00 551.79C470.00 552.34 472.99 552.89 475.99 553.46C478.99 554.03 481.98 554.61 484.98 555.21C487.98 555.81 490.97 556.42 493.97 557.05C496.97 557.69 499.96 558.34 502.96 559.02C505.96 559.70 508.95 560.39 511.95 561.13C514.95 561.87 517.94 562.63 520.94 563.44C523.94 564.25 526.93 565.10 529.93 566.00C532.93 566.90 537.42 568.38 538.92 568.86" stroke="#0a4f75" stroke-width="2.8" fill="none" stroke-linecap="butt"/>
<path d="M107.40 548.40C108.90 548.41 113.39 548.43 116.39 548.47C119.39 548.51 122.38 548.57 125.38 548.64C128.38 548.71 131.37 548.79 134.37 548.87C137.37 548.96 140.36 549.05 143.36 549.15C146.36 549.25 149.35 549.35 152.35 549.46C155.35 549.57 158.34 549.68 161.34 549.78C164.34 549.89 167.33 550.00 170.33 550.11C173.33 550.22 176.32 550.33 179.32 550.44C182.32 550.55 185.31 550.66 188.31 550.77C191.31 550.87 194.30 550.98 197.30 551.08C200.30 551.19 203.29 551.29 206.29 551.39C209.29 551.49 212.28 551.59 215.28 551.69C218.28 551.79 221.27 551.89 224.27 551.99C227.27 552.09 230.26 552.19 233.26 552.28C236.26 552.38 239.25 552.48 242.25 552.58C245.25 552.68 248.24 552.79 251.24 552.89C254.24 552.99 257.23 553.10 260.23 553.21C263.23 553.32 266.22 553.43 269.22 553.54C272.22 553.66 275.21 553.77 278.21 553.90C281.21 554.02 284.20 554.15 287.20 554.28C290.20 554.41 293.19 554.54 296.19 554.68C299.19 554.82 302.18 554.97 305.18 555.12C308.18 555.27 311.17 555.43 314.17 555.59C317.17 555.76 320.16 555.92 323.16 556.10C326.16 556.27 329.15 556.46 332.15 556.64C335.15 556.83 338.14 557.02 341.14 557.22C344.14 557.42 347.13 557.63 350.13 557.84C353.13 558.05 356.12 558.27 359.12 558.49C362.12 558.71 365.11 558.94 368.11 559.17C371.11 559.41 374.10 559.65 377.10 559.89C380.10 560.13 383.09 560.38 386.09 560.64C389.09 560.89 392.08 561.15 395.08 561.41C398.08 561.67 401.07 561.94 404.07 562.21C407.07 562.48 410.06 562.76 413.06 563.04C416.06 563.31 419.05 563.60 422.05 563.88C425.05 564.17 428.04 564.45 431.04 564.74C434.04 565.04 437.03 565.33 440.03 565.63C443.03 565.93 446.02 566.23 449.02 566.54C452.02 566.84 455.01 567.15 458.01 567.46C461.01 567.78 464.00 568.10 467.00 568.42C470.00 568.75 472.99 569.07 475.99 569.41C478.99 569.75 481.98 570.09 484.98 570.45C487.98 570.80 490.97 571.16 493.97 571.53C496.97 571.91 499.96 572.29 502.96 572.69C505.96 573.10 508.95 573.51 511.95 573.94C514.95 574.38 517.94 574.83 520.94 575.31C523.94 575.78 526.93 576.28 529.93 576.81C532.93 577.34 537.42 578.21 538.92 578.49" stroke="#0a4f75" stroke-width="2.8" fill="none" stroke-linecap="butt"/>
<rect x="171" y="138.95" width="17.5" height="10.4" fill="#fff" stroke="#6a6a6a" stroke-width="1.1"/>
<text transform="translate(179.70,147.75) scale(0.78,1)" text-anchor="middle" font-size="10.2" fill="#1e1e1e" font-weight="bold">44</text>
<rect x="171" y="179.62" width="17.5" height="10.4" fill="#fff" stroke="#6a6a6a" stroke-width="1.1"/>
<text transform="translate(179.70,188.42) scale(0.78,1)" text-anchor="middle" font-size="10.2" fill="#1e1e1e" font-weight="bold">40</text>
<rect x="171" y="260.95" width="17.5" height="10.4" fill="#fff" stroke="#6a6a6a" stroke-width="1.1"/>
<text transform="translate(179.70,269.75) scale(0.78,1)" text-anchor="middle" font-size="10.2" fill="#1e1e1e" font-weight="bold">32</text>
<rect x="171" y="311.79" width="17.5" height="10.4" fill="#fff" stroke="#6a6a6a" stroke-width="1.1"/>
<text transform="translate(179.70,320.59) scale(0.78,1)" text-anchor="middle" font-size="10.2" fill="#1e1e1e" font-weight="bold">27</text>
<rect x="171" y="403.29" width="17.5" height="10.4" fill="#fff" stroke="#6a6a6a" stroke-width="1.1"/>
<text transform="translate(179.70,412.09) scale(0.78,1)" text-anchor="middle" font-size="10.2" fill="#1e1e1e" font-weight="bold">18</text>
<rect x="171" y="443.96" width="17.5" height="10.4" fill="#fff" stroke="#6a6a6a" stroke-width="1.1"/>
<text transform="translate(179.70,452.76) scale(0.78,1)" text-anchor="middle" font-size="10.2" fill="#1e1e1e" font-weight="bold">14</text>
<rect x="171" y="484.63" width="17.5" height="10.4" fill="#fff" stroke="#6a6a6a" stroke-width="1.1"/>
<text transform="translate(179.70,493.43) scale(0.78,1)" text-anchor="middle" font-size="10.2" fill="#1e1e1e" font-weight="bold">10</text>
<rect x="171" y="515.13" width="17.5" height="10.4" fill="#fff" stroke="#6a6a6a" stroke-width="1.1"/>
<text transform="translate(179.70,523.93) scale(0.78,1)" text-anchor="middle" font-size="10.2" fill="#1e1e1e" font-weight="bold">7</text>
<rect x="171" y="545.63" width="17.5" height="10.4" fill="#fff" stroke="#6a6a6a" stroke-width="1.1"/>
<text transform="translate(179.70,554.43) scale(0.78,1)" text-anchor="middle" font-size="10.2" fill="#1e1e1e" font-weight="bold">4</text>
<path d="M236.14 715.37C237.88 713.93 243.10 709.55 246.58 706.72C250.06 703.89 253.54 701.10 257.02 698.38C260.50 695.65 263.98 692.98 267.46 690.38C270.94 687.77 274.42 685.23 277.90 682.75C281.38 680.28 284.86 677.87 288.34 675.55C291.82 673.22 295.30 670.96 298.78 668.79C302.26 666.62 305.74 664.53 309.22 662.53C312.70 660.53 316.18 658.61 319.66 656.79C323.14 654.98 326.62 653.25 330.10 651.63C333.58 650.01 337.06 648.48 340.54 647.07C344.03 645.66 347.51 644.35 350.99 643.16C354.47 641.97 357.95 640.89 361.43 639.94C364.91 638.99 368.39 638.15 371.87 637.45C375.35 636.75 378.83 636.17 382.31 635.73C385.79 635.29 389.27 634.99 392.75 634.83C396.23 634.67 399.71 634.65 403.19 634.78C406.67 634.92 410.15 635.20 413.63 635.64C417.11 636.08 420.59 636.68 424.07 637.44C427.55 638.21 431.03 639.13 434.51 640.24C437.99 641.34 441.47 642.61 444.95 644.07C448.43 645.52 451.91 647.15 455.39 648.97C458.87 650.80 462.35 652.80 465.83 655.01C469.31 657.22 472.79 659.62 476.28 662.22C479.76 664.83 483.24 667.63 486.72 670.66C490.20 673.68 493.68 676.90 497.16 680.36C500.64 683.81 504.12 687.48 507.60 691.38C511.08 695.28 514.56 699.40 518.04 703.77C521.52 708.13 525.00 712.73 528.48 717.57C531.96 722.42 537.18 730.30 538.92 732.84" stroke="#0a4f75" stroke-width="2.8" fill="none"/>
<rect x="516.6" y="676.9" width="8" height="10.4" fill="#fff" stroke="#4a4a4a" stroke-width="1"/>
<text transform="translate(520.60,684.60) scale(0.85,1)" text-anchor="middle" font-size="10.5" fill="#222" font-weight="bold">&#951;</text>
</svg>
</body></html>
